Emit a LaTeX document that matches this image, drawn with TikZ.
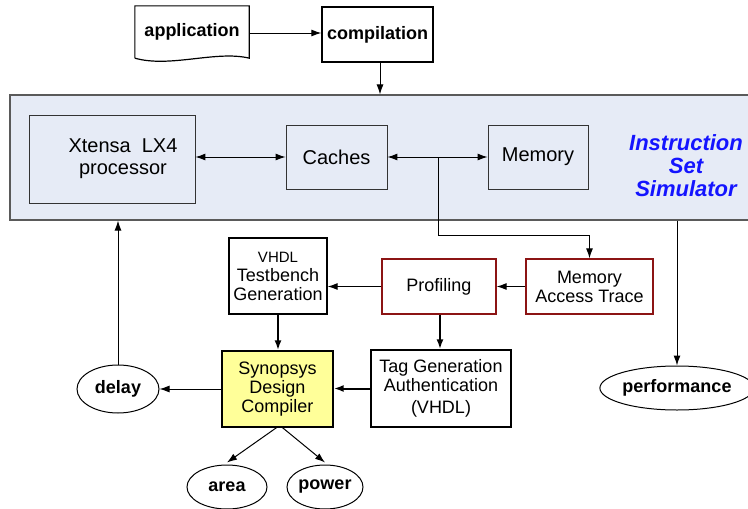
\documentclass[tikz,border=0pt]{standalone}
\usepackage{fontspec}
\setmainfont{Liberation Sans}
\usetikzlibrary{arrows.meta, shapes.geometric}

\definecolor{issfill}{RGB}{230,235,246}
\definecolor{issline}{RGB}{90,90,90}
\definecolor{tracered}{RGB}{140,20,20}
\definecolor{dcyellow}{RGB}{255,255,153}
\definecolor{issblue}{RGB}{20,20,255}

\begin{document}
\begin{tikzpicture}[x=1pt, y=-1pt,
    box/.style={rectangle, draw, line width=1.3pt, align=center, inner sep=0pt,
        font=\fontsize{18}{19}\selectfont},
    inbox/.style={box, draw=black!80, line width=0.8pt, font=\fontsize{20}{22}\selectfont},
    redbox/.style={box, draw=tracered},
    oval/.style={ellipse, draw, line width=1pt, inner sep=0pt,
        font=\fontsize{18}{19}\selectfont\bfseries},
    arr/.style={-{Latex[length=10pt,width=7pt]}, line width=1pt},
    thickarr/.style={arr, line width=2pt},
    dblarr/.style={{Latex[length=10pt,width=7pt]}-{Latex[length=10pt,width=7pt]}, line width=1pt}]
    \useasboundingbox (0,0) rectangle (748,509);

    % Input side
    \node [box, draw=none, minimum width=113pt, minimum height=51pt,
        font=\fontsize{18}{19}\selectfont\bfseries] (app) at (192,32) {application};
    \draw [line width=1.2pt] (app.south west) -- (app.north west) -- (app.north east) -- (app.south east)
        .. controls ([xshift=-33pt,yshift=8pt]app.south east) and ([xshift=35pt,yshift=-10pt]app.south west) .. (app.south west);
    \node [box, minimum width=111pt, minimum height=55pt,
        font=\fontsize{18}{19}\selectfont\bfseries] (comp) at (377.5,34.5) {compilation};

    % Instruction set simulator
    \node [rectangle, draw=issline, fill=issfill, line width=1.2pt,
        minimum width=742pt, minimum height=125pt] (iss) at (381,157.5) {};
    \node [inbox, minimum width=166pt, minimum height=88pt] (xt) at (112,159) {\hspace*{22pt}Xtensa\ \ LX4\\\hspace*{22pt}processor};
    \node [inbox, minimum width=101pt, minimum height=64pt] (cache) at (336.5,157) {Caches};
    \node [inbox, minimum width=100pt, minimum height=64pt] (mem) at (538,157) {Memory};
    \node [align=center, text=issblue, inner sep=0pt,
        font=\fontsize{22}{23}\selectfont\bfseries\itshape] (isslabel) at (686,166) {Instruction\\Set\\Simulator};

    % Synthesis flow
    \node [box, minimum width=98pt, minimum height=76pt] (vhdl) at (278,276)
        {{\fontsize{15}{17}\selectfont VHDL}\\Testbench\\Generation};
    \node [redbox, minimum width=114pt, minimum height=55pt] (prof) at (439,286.5) {Profiling};
    \node [redbox, minimum width=127pt, minimum height=55pt] (mat) at (589.5,286.5) {Memory\\Access Trace};
    \node [box, fill=dcyellow, minimum width=111pt, minimum height=76pt] (syn) at (277.5,389)
        {Synopsys\\Design\\Compiler};
    \node [box, minimum width=140pt, minimum height=77pt] (tag) at (441,388.5)
        {Tag Generation\\Authentication\\[3pt](VHDL)};

    % Results
    \node [oval, minimum width=82pt, minimum height=48pt] (delay) at (118,389) {delay};
    \node [oval, minimum width=80pt, minimum height=44pt] (area) at (227,487) {area};
    \node [oval, minimum width=76pt, minimum height=44pt] (power) at (325,487) {power};
    \node [oval, minimum width=132pt, minimum height=44pt] (perf) at (677,388) {performance};

    % Arrows
    \coordinate (split) at (438,157);
    \draw [arr] (app.east |- 0,33) -- (comp.west |- 0,33);
    \draw [arr] ([xshift=2.5pt]comp.south) -- ([xshift=2.5pt]comp.south |- iss.north);
    \draw [dblarr] (xt.east |- cache.west) -- (cache.west);
    \draw [dblarr] (cache.east) -- (mem.west);
    \draw [arr] (split) |- ([yshift=23pt]mat.north) -- (mat.north);
    \draw [arr] (perf.north |- iss.south) -- (perf.north);
    \draw [arr] (delay.north) -- (delay.north |- iss.south);
    \draw [arr] (mat.west) -- (prof.east);
    \draw [arr] (prof.west) -- (prof.west -| vhdl.east);
    \draw [thickarr] ([xshift=1pt]prof.south) -- ([xshift=1pt]prof.south |- tag.north);
    \draw [thickarr] (vhdl.south) -- (vhdl.south |- syn.north);
    \draw [thickarr] (tag.west) -- (tag.west -| syn.east);
    \draw [arr] (syn.west) -- (delay.east);
    \draw [arr] ([xshift=-1pt]syn.south) -- ([yshift=2pt]area.north);
    \draw [arr] ([xshift=5pt]syn.south) -- ([yshift=2pt]power.north);
\end{tikzpicture}
\end{document}
